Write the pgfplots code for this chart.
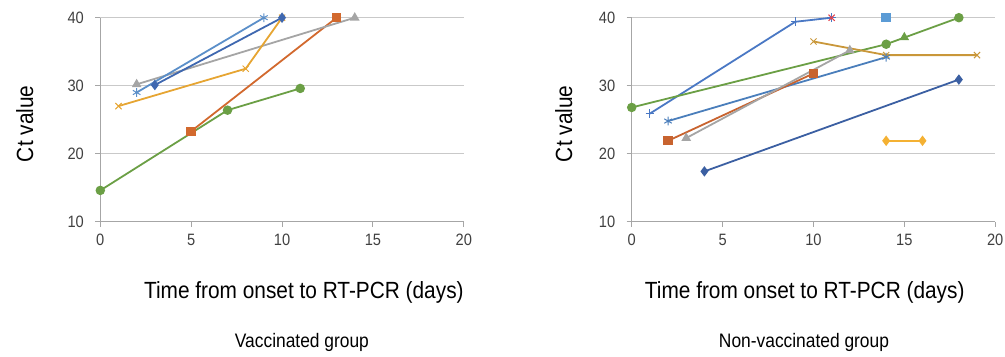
\documentclass[border=0pt]{standalone}
\usepackage{pgfplots}
\pgfplotsset{compat=1.18}
\usepackage{fontspec}
\setmainfont{Liberation Sans}[FakeStretch=0.89]
\definecolor{axgray}{HTML}{A6A6A6}
\definecolor{gridgray}{HTML}{C9C9C9}
\definecolor{tgray}{HTML}{404040}
\definecolor{lA}{HTML}{5B8FC9}
\definecolor{lB}{HTML}{3F68B0}
\definecolor{lC}{HTML}{A5A5A5}
\definecolor{lD}{HTML}{E6A532}
\definecolor{lE}{HTML}{D2692E}
\definecolor{lF}{HTML}{6B9F45}
\definecolor{rA}{HTML}{4A78C4}
\definecolor{rB}{HTML}{E5404A}
\definecolor{rC}{HTML}{5B9BD5}
\definecolor{rD}{HTML}{6B9F45}
\definecolor{rE}{HTML}{C9973A}
\definecolor{rF}{HTML}{4A7EBB}
\definecolor{rG}{HTML}{C8632F}
\definecolor{rH}{HTML}{A5A5A5}
\definecolor{rI}{HTML}{3B5FA2}
\definecolor{rJ}{HTML}{F4B133}
\pgfplotsset{
  ctstyle/.style={
    scale only axis, width=363.5bp, height=204bp,
    xmin=0, xmax=20, ymin=10, ymax=40,
    xtick={0,5,10,15,20}, ytick={10,20,30,40},
    axis x line*=bottom, axis y line*=left,
    axis line style={draw=axgray, line width=0.9bp},
    ymajorgrids, grid style={draw=gridgray, line width=1.2bp},
    tick style={draw=axgray, line width=0.9bp},
    tick align=outside, major tick length=5bp,
    ticklabel style={font=\fontsize{16.5}{17}\selectfont, text=tgray},
    yticklabel style={xshift=-8bp},
    xticklabel style={yshift=-4bp},
    /pgf/number format/assume math mode=true,
    clip=false,
    every axis plot/.append style={line width=1.8bp, mark size=3.8bp},
  },
  xm/.style={mark options={solid, line width=1bp, scale=1.15}},
}
\newcommand{\lab}{\fontsize{23.5}{24}\selectfont}
\newcommand{\ttl}{\fontsize{19.6}{20}\selectfont}
\begin{document}
\begin{tikzpicture}[x=1bp,y=1bp]
\useasboundingbox (0,0) rectangle (1005,356);
\begin{axis}[ctstyle, at={(100.3bp,134.3bp)}, anchor=south west]
\addplot[color=lE, mark=square*] coordinates {(5,23.3) (13,40)};
\addplot[color=lF, mark=*] coordinates {(0,14.6) (7,26.4) (11,29.6)};
\addplot[color=lC, mark=triangle*] coordinates {(2,30.2) (14,40)};
\addplot[color=lD, mark=x, xm] coordinates {(1,27) (8,32.5) (10,40)};
\addplot[color=lB, mark=diamond*] coordinates {(3,30.1) (10,40)};
\addplot[color=lA, mark=asterisk, xm] coordinates {(2,29) (9,40)};
\node[font=\lab, rotate=90] at (rel axis cs:-0.208,0.48) {Ct value};
\node[font=\lab] at (rel axis cs:0.56,-0.348) {Time from onset to RT-PCR (days)};
\node[font=\ttl] at (rel axis cs:0.5546,-0.59) {Vaccinated group};
\end{axis}
\begin{axis}[ctstyle, at={(631.7bp,134.3bp)}, anchor=south west]
\addplot[color=rA, mark=+, xm] coordinates {(1,25.9) (9,39.4) (11,40)};
\addplot[color=rB, only marks, mark=x, xm] coordinates {(11,40)};
\addplot[color=rC, only marks, mark=square*] coordinates {(14,40)};
\addplot[color=rD, mark=*] coordinates {(0,26.8) (14,36.1) (18,40)};
\addplot[color=rD, only marks, mark=triangle*] coordinates {(15,37.1)};
\addplot[color=rE, mark=x, xm] coordinates {(10,36.5) (14,34.5) (19,34.5)};
\addplot[color=rF, mark=asterisk, xm] coordinates {(2,24.8) (14,34.2)};
\addplot[color=rG, mark=square*] coordinates {(2,21.9) (10,31.8)};
\addplot[color=rH, mark=triangle*] coordinates {(3,22.3) (12,35.2)};
\addplot[color=rI, mark=diamond*] coordinates {(4,17.4) (18,30.9)};
\addplot[color=rJ, mark=diamond*] coordinates {(14,21.9) (16,21.9)};
\node[font=\lab, rotate=90] at (rel axis cs:-0.187,0.48) {Ct value};
\node[font=\lab] at (rel axis cs:0.476,-0.348) {Time from onset to RT-PCR (days)};
\node[font=\ttl] at (rel axis cs:0.474,-0.59) {Non-vaccinated group};
\end{axis}
\end{tikzpicture}
\end{document}
